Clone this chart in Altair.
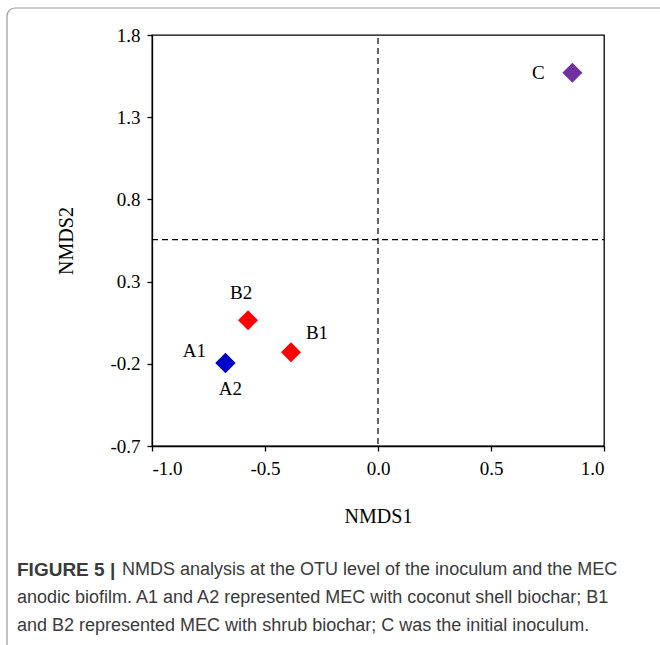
import altair as alt
import pandas as pd

# ---- data ----
labels = ["A1", "A2", "B1", "B2", "C"]
groups = ["A", "A", "B", "B", "C"]
nmds1 = [-0.675, -0.675, -0.385, -0.575, 0.86]
nmds2 = [-0.195, -0.195, -0.13, 0.065, 1.57]
group_names = ["A", "B", "C"]
group_colors = ["#0000C8", "#FF0000", "#7030A0"]
x_ticks = [-1.0, -0.5, 0.0, 0.5, 1.0]
y_ticks = [-0.7, -0.2, 0.3, 0.8, 1.3, 1.8]
v_ref = [0.0]
h_ref = [0.555]

caption_bold = "FIGURE 5 |"
caption_lines = [
    "NMDS analysis at the OTU level of the inoculum and the MEC",
    "anodic biofilm. A1 and A2 represented MEC with coconut shell biochar; B1",
    "and B2 represented MEC with shrub biochar; C was the initial inoculum.",
]

df = pd.DataFrame({"label": labels, "group": groups, "x": nmds1, "y": nmds2})

W, H = 452, 411
SERIF = "Liberation Serif"
SANS = "Liberation Sans Narrow, Liberation Sans, sans-serif"

xscale = alt.Scale(domain=[-1.0, 1.0], nice=False, zero=False)
yscale = alt.Scale(domain=[-0.7, 1.8], nice=False, zero=False)
lab_expr = "replace(format(datum.value, '.1f'), '\u2212', '-')"

X = alt.X("x:Q", scale=xscale, title="NMDS1",
          axis=alt.Axis(values=x_ticks, labelExpr=lab_expr, grid=False,
                        tickSize=5, labelPadding=8, titlePadding=28))
Y = alt.Y("y:Q", scale=yscale, title="NMDS2",
          axis=alt.Axis(values=y_ticks, labelExpr=lab_expr, grid=False,
                        tickSize=5, labelPadding=7, titlePadding=33))

base = alt.Chart(df)

points = base.mark_point(shape="diamond", filled=True, size=400, opacity=1).encode(
    x=X, y=Y,
    color=alt.Color("group:N", scale=alt.Scale(domain=group_names, range=group_colors), legend=None),
)

offsets = {"A1": (-31, -12), "A2": (5, 26), "B1": (26, -19), "B2": (-7, -27), "C": (-34, 0)}
text_layers = []
for lab in labels:
    dx, dy = offsets[lab]
    text_layers.append(
        base.transform_filter(alt.datum.label == lab)
        .mark_text(font=SERIF, fontSize=19, color="black", dx=dx, dy=dy, baseline="middle", align="center")
        .encode(x="x:Q", y="y:Q", text="label:N")
    )

vline = alt.Chart(pd.DataFrame({"x": v_ref})).mark_rule(
    color="black", strokeDash=[6, 4], strokeWidth=1.2
).encode(x="x:Q", y=alt.value(3), y2=alt.value(H))

hline = alt.Chart(pd.DataFrame({"y": h_ref})).mark_rule(
    color="black", strokeDash=[6, 4], strokeWidth=1.2
).encode(y="y:Q", x=alt.value(0), x2=alt.value(W))

border = alt.Chart(pd.DataFrame({"k": [0]})).mark_rect(
    fill="transparent", stroke="#9a9a9a", strokeWidth=1.2, cornerRadius=8
).encode(x=alt.value(-145), y=alt.value(-27), x2=alt.value(560), y2=alt.value(700))

cap_color = "#3a3a3a"
cap_bold = alt.Chart(pd.DataFrame({"t": [caption_bold]})).mark_text(
    font=SANS, fontSize=19, fontWeight="bold", color=cap_color, align="left", baseline="middle"
).encode(x=alt.value(-135), y=alt.value(535), text="t:N")

cap_rows = []
for i, line in enumerate(caption_lines):
    xpos = -30 if i == 0 else -135
    cap_rows.append(
        alt.Chart(pd.DataFrame({"t": [line]})).mark_text(
            font=SANS, fontSize=18, color=cap_color, align="left", baseline="middle"
        ).encode(x=alt.value(xpos), y=alt.value(535 + 28 * i), text="t:N")
    )

chart = alt.layer(
    border, vline, hline, points, *text_layers, cap_bold, *cap_rows
).properties(
    width=W, height=H,
    background="white",
    autosize=alt.AutoSizeParams(type="none"),
    padding={"left": 152, "top": 35, "right": 56, "bottom": 199},
).configure_view(
    stroke="black", strokeWidth=1.3
).configure_axis(
    domainColor="black", domainWidth=1.3, tickColor="black", tickWidth=1.3,
    labelFont=SERIF, labelFontSize=19, labelColor="black",
    titleFont=SERIF, titleFontSize=20, titleFontWeight="normal", titleColor="black",
)

chart.save("out.html", embed_options={"renderer": "svg", "actions": False})
